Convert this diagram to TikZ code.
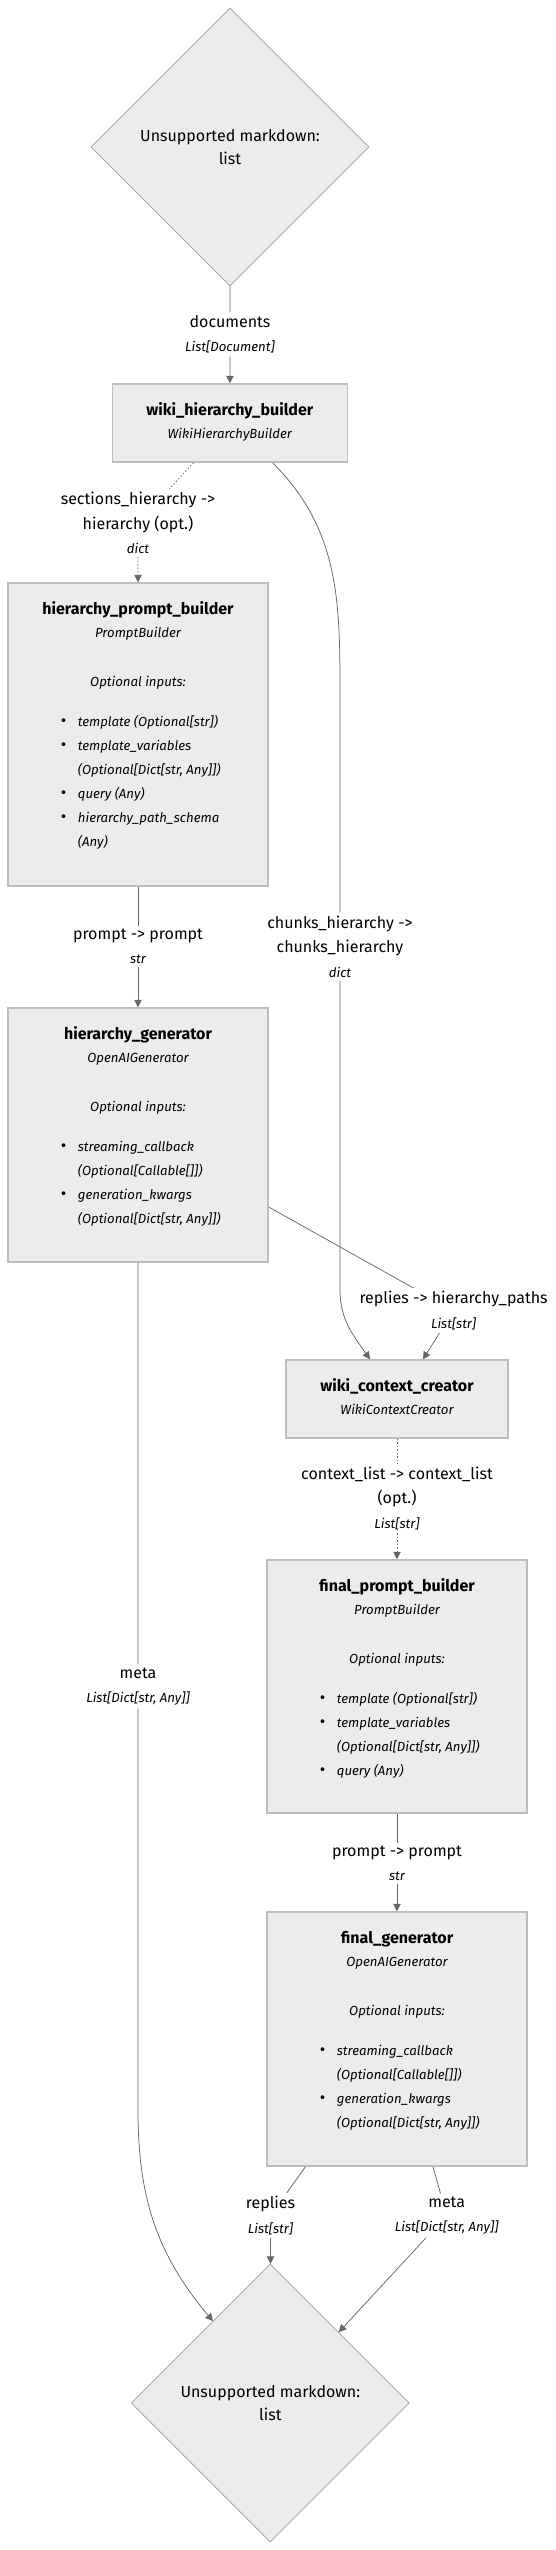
\documentclass[tikz,border=0pt]{standalone}
\usepackage{fontspec}
\setmainfont{Fira Sans}
\usepackage{tikz}
\usetikzlibrary{arrows.meta, shapes.geometric}

\definecolor{boxfill}{HTML}{ECECEC}
\definecolor{boxline}{HTML}{BDBDBD}
\definecolor{diamline}{HTML}{A0A0A0}
\definecolor{wireline}{HTML}{666666}
\definecolor{tipfill}{HTML}{666666}

\newcommand{\bul}{\makebox[17pt][l]{\upshape\fontsize{17}{24}\selectfont\raisebox{-0.5pt}{\textbullet}}}
\newcommand{\cont}{\hspace*{17pt}}
\newcommand{\ty}[1]{{\itshape\fontsize{13.2}{15}\selectfont #1}}

\tikzset{
  comp/.style={rectangle, draw=boxline, fill=boxfill, line width=1.4pt, inner sep=0pt},
  choice/.style={diamond, draw=diamline, fill=boxfill, line width=0.7pt, inner sep=0pt,
    minimum width=278pt, minimum height=278pt, align=center, font=\fontsize{16}{23.5}\selectfont},
  cname/.style={anchor=base, inner sep=0pt, font=\bfseries\fontsize{16}{20}\selectfont},
  ctype/.style={anchor=base, inner sep=0pt, font=\itshape\fontsize{13.2}{15}\selectfont},
  inputs/.style={anchor=north west, inner sep=0pt, align=left, font=\itshape\fontsize{13.2}{24}\selectfont},
  elabel/.style={align=center, inner sep=3pt, font=\fontsize{16}{24.5}\selectfont},
  wire/.style={draw=wireline, line width=0.75pt},
  flow/.style={wire, -{Triangle[length=7.5pt, width=7.5pt, fill=tipfill, color=tipfill]}},
  optional/.style={dash pattern=on 1.5pt off 2pt},
}

\begin{document}
\begin{tikzpicture}[x=1pt, y=-1pt]
\useasboundingbox (0,0) rectangle (555,2550);

% source and sink
\node[choice] (source) at (230,147) {Unsupported markdown:\\list};
\node[choice] (sink) at (270.3,2403) {Unsupported markdown:\\list};

% components
\node[comp, minimum width=235pt, minimum height=78pt] (wbuild) at (229.8,423) {};
\node[comp, minimum width=260pt, minimum height=303pt] (hpbuild) at (138,734.5) {};
\node[comp, minimum width=260pt, minimum height=254pt] (hgen) at (138,1135) {};
\node[comp, minimum width=222pt, minimum height=78pt] (wctx) at (397,1399) {};
\node[comp, minimum width=260pt, minimum height=253pt] (fpbuild) at (397,1686.5) {};
\node[comp, minimum width=260pt, minimum height=254pt] (fgen) at (397,2039) {};

\foreach \b/\n/\c in {wbuild/wiki\_hierarchy\_builder/WikiHierarchyBuilder,
    hpbuild/hierarchy\_prompt\_builder/PromptBuilder,
    hgen/hierarchy\_generator/OpenAIGenerator,
    wctx/wiki\_context\_creator/WikiContextCreator,
    fpbuild/final\_prompt\_builder/PromptBuilder,
    fgen/final\_generator/OpenAIGenerator}
{
    \node[cname] (\b-name) at ([yshift=-32pt]\b.north) {\n};
    \node[ctype] (\b-type) at ([yshift=-55.5pt]\b.north) {\c};
}
\foreach \b in {hpbuild, hgen, fpbuild, fgen}
    \node[ctype] (\b-opt) at ([yshift=-104pt]\b.north) {Optional inputs:};

\node[inputs] (hpbuild-in) at ([xshift=53.4pt, yshift=-126.7pt]hpbuild.north west)
    {\strut\bul template (Optional[str])\\
     \bul template\_variables\\
     \cont (Optional[Dict[str, Any]])\\
     \bul query (Any)\\
     \bul hierarchy\_path\_schema\\
     \cont (Any)};
\node[inputs] (hgen-in) at ([xshift=53.4pt, yshift=-126.7pt]hgen.north west)
    {\strut\bul streaming\_callback\\
     \cont (Optional[Callable[]])\\
     \bul generation\_kwargs\\
     \cont (Optional[Dict[str, Any]])};
\node[inputs] (fpbuild-in) at ([xshift=53.4pt, yshift=-126.7pt]fpbuild.north west)
    {\strut\bul template (Optional[str])\\
     \bul template\_variables\\
     \cont (Optional[Dict[str, Any]])\\
     \bul query (Any)};
\node[inputs] (fgen-in) at ([xshift=53.4pt, yshift=-126.7pt]fgen.north west)
    {\strut\bul streaming\_callback\\
     \cont (Optional[Callable[]])\\
     \bul generation\_kwargs\\
     \cont (Optional[Dict[str, Any]])};

% edge labels
\node[elabel] (docs) at (230,334.5) {documents\\\ty{List[Document]}};
\node[elabel] (secs) at (138,523) {sections\_hierarchy ->\\hierarchy (opt.)\\\ty{dict}};
\node[elabel] (chunks) at (340,946.5) {chunks\_hierarchy ->\\chunks\_hierarchy\\\ty{dict}};
\node[elabel] (prompt1) at (138,946.5) {prompt -> prompt\\\ty{str}};
\node[elabel] (paths) at (453.6,1310.5) {replies -> hierarchy\_paths\\\ty{List[str]}};
\node[elabel] (ctx) at (397,1498.5) {context\_list -> context\_list\\(opt.)\\\ty{List[str]}};
\node[elabel] (meta1) at (138,1686.5) {meta\\\ty{List[Dict[str, Any]]}};
\node[elabel] (prompt2) at (397,1863.5) {prompt -> prompt\\\ty{str}};
\node[elabel] (replies) at (270.5,2215.5) {replies\\\ty{List[str]}};
\node[elabel] (meta2) at (446.7,2215.5) {meta\\\ty{List[Dict[str, Any]]}};

\coordinate (chA) at (340,700);
\coordinate (chB) at (340,1290);
\coordinate (mA) at (138,2110);

% connectors
\draw[flow] (source) -- (docs) -- (wbuild);
\draw[flow, optional] ([xshift=-36.2pt]wbuild.south) -- (secs) -- (hpbuild);
\draw[flow] ([xshift=42.8pt]wbuild.south) to[out=-45, in=90] (chA) -- (chunks)
    -- (chB) to[out=-90, in=125] ([xshift=-27pt]wctx.north);
\draw[flow] (hpbuild) -- (prompt1) -- (hgen);
\draw[flow] ([yshift=-72pt]hgen.east) -- (paths) -- ([xshift=26pt]wctx.north);
\draw[flow, optional] (wctx) -- (ctx) -- (fpbuild);
\draw[flow] (fpbuild) -- (prompt2) -- (fgen);
\draw[flow] (hgen) -- (meta1) -- (mA) to[out=-90, in=130] (sink.125);
\draw[flow] ([xshift=-91.5pt]fgen.south) -- (replies) -- (sink);
\draw[flow] ([xshift=36pt]fgen.south) -- (meta2) -- (sink.46);
\end{tikzpicture}
\end{document}
